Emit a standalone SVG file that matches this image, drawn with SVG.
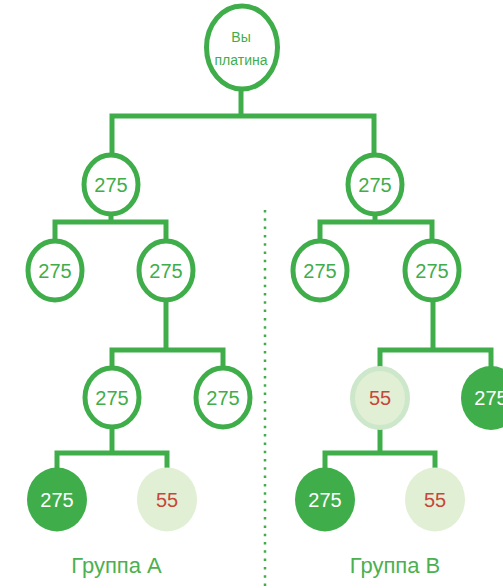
<svg xmlns="http://www.w3.org/2000/svg" width="503" height="588" viewBox="0 0 503 588">
<style>
.c{fill:none;stroke:#3fae4a;stroke-width:5;stroke-linejoin:miter;stroke-linecap:butt}
.o{fill:#fff;stroke:#3fae4a;stroke-width:5}
.f{fill:#3fae4a}
.p{fill:#e1efd5}
.pr{fill:#e1efd5;stroke:#cde7cb;stroke-width:5}
.t{font-family:"Liberation Sans",Arial,sans-serif;font-size:20px;text-anchor:middle;fill:#3fae4a}
.tw{font-family:"Liberation Sans",Arial,sans-serif;font-size:20px;text-anchor:middle;fill:#fff}
.tr{font-family:"Liberation Sans",Arial,sans-serif;font-size:20px;text-anchor:middle;fill:#c9463a}
.ts{font-family:"Liberation Sans",Arial,sans-serif;font-size:14px;text-anchor:middle;fill:#3fae4a}
.lbl{font-family:"Liberation Sans",Arial,sans-serif;font-size:22px;text-anchor:middle;fill:#4cb050}
</style>
<rect width="503" height="588" fill="#fff"/>
<line x1="265" y1="210" x2="265" y2="588" stroke="#3fae4a" stroke-width="2.5" stroke-dasharray="2.5 5.8"/>
<g id="connectors">
<path class="c" d="M241 89V116"/>
<path class="c" d="M112 155V116H374V155"/>
<path class="c" d="M111 214V222"/>
<path class="c" d="M55 241V222H166V241"/>
<path class="c" d="M375 214V222"/>
<path class="c" d="M320 241V222H432V241"/>
<path class="c" d="M166 300V350"/>
<path class="c" d="M112 368V350H223V368"/>
<path class="c" d="M433 300V350"/>
<path class="c" d="M380 368V350H491V368"/>
<path class="c" d="M112 427V453"/>
<path class="c" d="M57 470V453H167V470"/>
<path class="c" d="M380 427V453"/>
<path class="c" d="M325 470V453H435V470"/>
</g>
<g id="top"><ellipse class="o" cx="242" cy="47.5" rx="35.5" ry="41.5"/><text class="ts" x="241" y="42">Вы</text><text class="ts" x="241" y="65">платина</text></g>
<g id="a1"><ellipse class="o" cx="111" cy="184.5" rx="27" ry="29.5"/><text class="t" x="111" y="191.5">275</text></g>
<g id="b1"><ellipse class="o" cx="375" cy="184.5" rx="27" ry="29.5"/><text class="t" x="375" y="191.5">275</text></g>
<g id="a2l"><ellipse class="o" cx="55" cy="270.5" rx="27" ry="29.5"/><text class="t" x="55" y="277.5">275</text></g>
<g id="a2r"><ellipse class="o" cx="166" cy="270.5" rx="27" ry="29.5"/><text class="t" x="166" y="277.5">275</text></g>
<g id="b2l"><ellipse class="o" cx="320" cy="270.5" rx="27" ry="29.5"/><text class="t" x="320" y="277.5">275</text></g>
<g id="b2r"><ellipse class="o" cx="432" cy="270.5" rx="27" ry="29.5"/><text class="t" x="432" y="277.5">275</text></g>
<g id="a3l"><ellipse class="o" cx="112" cy="397.5" rx="27" ry="29.5"/><text class="t" x="112" y="404.5">275</text></g>
<g id="a3r"><ellipse class="o" cx="223" cy="397.5" rx="27" ry="29.5"/><text class="t" x="223" y="404.5">275</text></g>
<g id="b3l"><ellipse class="pr" cx="380" cy="398" rx="27.5" ry="29.5"/><text class="tr" x="380" y="405">55</text></g>
<g id="b3r"><ellipse class="f" cx="491" cy="398" rx="30" ry="32"/><text class="tw" x="491" y="405">275</text></g>
<g id="a4l"><ellipse class="f" cx="57" cy="499.5" rx="30" ry="32"/><text class="tw" x="57" y="506.5">275</text></g>
<g id="a4r"><ellipse class="p" cx="167" cy="499.5" rx="30" ry="32"/><text class="tr" x="167" y="506.5">55</text></g>
<g id="b4l"><ellipse class="f" cx="325" cy="499.5" rx="30" ry="32"/><text class="tw" x="325" y="506.5">275</text></g>
<g id="b4r"><ellipse class="p" cx="435" cy="499.5" rx="30" ry="32"/><text class="tr" x="435" y="506.5">55</text></g>
<text class="lbl" x="116.5" y="573">Группа А</text>
<text class="lbl" x="395" y="573">Группа В</text>
</svg>
